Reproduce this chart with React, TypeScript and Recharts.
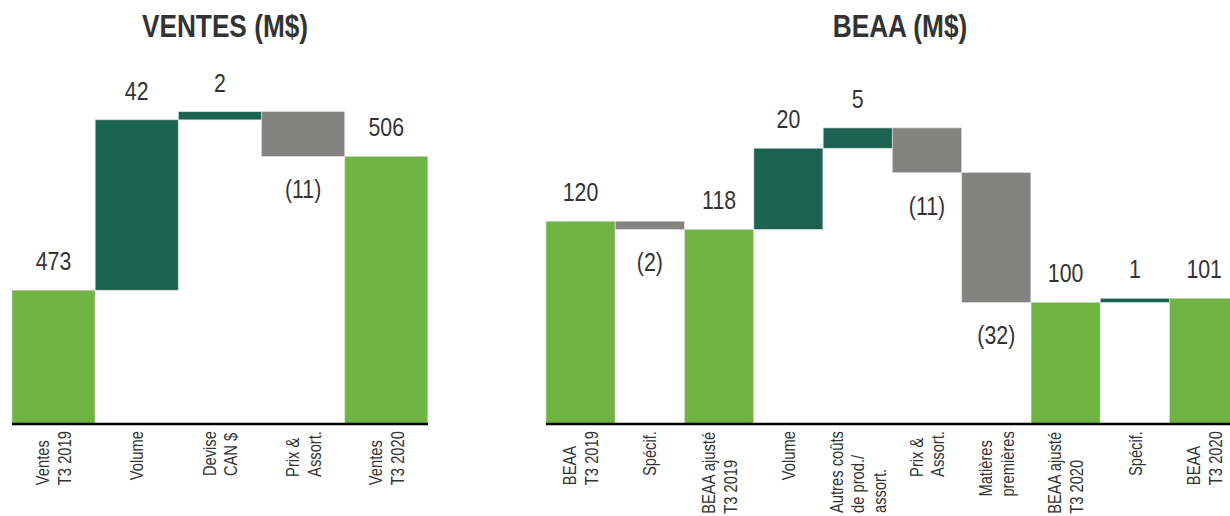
import { BarChart, Bar, XAxis, YAxis, Cell } from 'recharts';

// no narrow face installed: use Liberation Sans squeezed horizontally
const FONT = "'Liberation Sans', Arial, sans-serif";
const SQUEEZE = 0.82;
const TEXT = '#333333';
const LIGHT_GREEN = '#70b544';
const DARK_GREEN = '#1c634f';
const GREY = '#838382';

// Ventes (M$)
const ventesLabels = ['Ventes\nT3 2019', 'Volume', 'Devise\nCAN $', 'Prix &\nAssort.', 'Ventes\nT3 2020'];
const ventesValues = [473, 42, 2, -11, 506];
const ventesIsTotal = [true, false, false, false, true];

// BEAA (M$)
const beaaLabels = [
  'BEAA\nT3 2019',
  'Spécif.',
  'BEAA ajusté\nT3 2019',
  'Volume',
  'Autres coûts\nde prod./\nassort.',
  'Prix &\nAssort.',
  'Matières\npremières',
  'BEAA ajusté\nT3 2020',
  'Spécif.',
  'BEAA\nT3 2020',
];
const beaaValues = [120, -2, 118, 20, 5, -11, -32, 100, 1, 101];
const beaaIsTotal = [true, false, true, false, false, false, false, true, false, true];

type Row = { name: string; value: number; total: boolean; range: [number, number]; fill: string };

function buildRows(labels: string[], values: number[], totals: boolean[], floor: number): Row[] {
  let running = 0;
  return labels.map((name, i) => {
    const v = values[i];
    let range: [number, number];
    let fill: string;
    if (totals[i]) {
      range = [floor, v];
      running = v;
      fill = LIGHT_GREEN;
    } else {
      const next = running + v;
      range = [Math.min(running, next), Math.max(running, next)];
      running = next;
      fill = v >= 0 ? DARK_GREEN : GREY;
    }
    return { name, value: v, total: totals[i], range, fill };
  });
}

let measureCtx: CanvasRenderingContext2D | null = null;
function textWidth(s: string, font: string) {
  if (!measureCtx) measureCtx = document.createElement('canvas').getContext('2d');
  if (!measureCtx) return s.length * 8;
  measureCtx.font = font;
  return measureCtx.measureText(s).width;
}

function RotatedTick(props: any) {
  const { x, y, payload } = props;
  const lines: string[] = String(payload.value).split('\n');
  const font = `18px ${FONT}`;
  const longest = Math.max(...lines.map((l) => textWidth(l, font))) * SQUEEZE;
  const startY = y + 7 + longest;
  const n = lines.length;
  return (
    <g>
      {lines.map((line, i) => {
        const bx = x + (i - (n - 1) / 2) * 21.6 + 6.5;
        return (
          <text
            key={i}
            transform={`translate(${bx},${startY}) rotate(-90) scale(${SQUEEZE},1)`}
            textAnchor="start"
            fontFamily={FONT}
            fontSize={18}
            fill={TEXT}
          >
            {line}
          </text>
        );
      })}
    </g>
  );
}

function WaterfallShape(props: any) {
  const { x, y, width, height, payload } = props;
  const top = Math.min(y, y + height);
  const h = Math.abs(height);
  const v: number = payload.value;
  const label = v < 0 ? `(${Math.abs(v)})` : String(v);
  const ly = v < 0 ? top + h + 42 : top - 20;
  return (
    <g>
      <rect x={x} y={top} width={width} height={h} fill={payload.fill} stroke="#d6d6d6" strokeWidth={0.6} />
      <text
        transform={`translate(${x + width / 2},${ly}) scale(${SQUEEZE},1)`}
        textAnchor="middle"
        fontFamily={FONT}
        fontSize={26}
        fill={TEXT}
      >
        {label}
      </text>
    </g>
  );
}

function Waterfall({ rows, domain, width, left, right }: { rows: Row[]; domain: [number, number]; width: number; left: number; right: number }) {
  return (
    <BarChart width={width} height={516} data={rows} margin={{ top: 59, left, right, bottom: 0 }} barCategoryGap={0}>
      <XAxis
        dataKey="name"
        interval={0}
        tickLine={false}
        tickSize={0}
        tickMargin={0}
        height={92}
        axisLine={{ stroke: '#000000', strokeWidth: 2.5 }}
        tick={<RotatedTick />}
      />
      <YAxis hide domain={domain} allowDataOverflow />
      <Bar dataKey="range" isAnimationActive={false} shape={<WaterfallShape />}>
        {rows.map((r, i) => (
          <Cell key={i} fill={r.fill} />
        ))}
      </Bar>
    </BarChart>
  );
}

export default function App() {
  const ventesRows = buildRows(ventesLabels, ventesValues, ventesIsTotal, 440);
  const beaaRows = buildRows(beaaLabels, beaaValues, beaaIsTotal, 70);
  return (
    <div style={{ position: 'absolute', left: 0, top: 0, width: 1230, height: 516, overflow: 'hidden', background: '#fff' }}>
      <div style={{ position: 'absolute', left: 0, top: 0 }}>
        <Waterfall rows={ventesRows} domain={[440, 530]} width={440} left={12} right={12} />
      </div>
      <div style={{ position: 'absolute', left: 530, top: 0 }}>
        <Waterfall rows={beaaRows} domain={[70, 160]} width={720} left={16} right={11} />
      </div>
      <svg width={1230} height={516} style={{ position: 'absolute', left: 0, top: 0, pointerEvents: 'none' }}>
        <text transform={`translate(225,37) scale(${SQUEEZE},1)`} textAnchor="middle" fontFamily={FONT} fontWeight="bold" fontSize={32} fill={TEXT}>
          VENTES (M$)
        </text>
        <text transform={`translate(900,37) scale(${SQUEEZE},1)`} textAnchor="middle" fontFamily={FONT} fontWeight="bold" fontSize={32} fill={TEXT}>
          BEAA (M$)
        </text>
      </svg>
    </div>
  );
}
